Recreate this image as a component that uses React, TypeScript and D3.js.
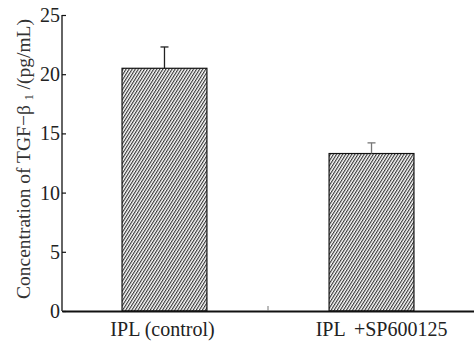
import * as d3 from 'd3';
import React, { useEffect, useRef } from 'react';

const groups = ['IPL (control)', 'IPL \u2009+SP600125'];
const means = [20.5, 13.3];
const errors = [1.8, 0.9];
const yTicks = [0, 5, 10, 15, 20, 25];

const W = 474;
const H = 341;

function App() {
    const ref = useRef<SVGSVGElement>(null);

    useEffect(() => {
        const svg = d3.select(ref.current);
        svg.selectAll('*').remove();

        const left = 62, top = 15, bottom = 311, right = W;
        const font = "'Liberation Serif', 'Times New Roman', serif";

        const x = d3.scaleBand<string>()
            .domain(groups)
            .range([left, right])
            .paddingInner(0.59)
            .paddingOuter(0.29);

        const y = d3.scaleLinear()
            .domain([0, 25])
            .range([bottom, top]);

        // hatch fill
        const defs = svg.append('defs');
        const pat = defs.append('pattern')
            .attr('id', 'hatch')
            .attr('patternUnits', 'userSpaceOnUse')
            .attr('width', 2.6)
            .attr('height', 6)
            .attr('patternTransform', 'rotate(32)');
        pat.append('rect').attr('width', 2.6).attr('height', 6).attr('fill', '#fff');
        pat.append('line')
            .attr('x1', 0.6).attr('y1', 0).attr('x2', 0.6).attr('y2', 6)
            .attr('stroke', '#222').attr('stroke-width', 1.05);

        // bars
        svg.selectAll('rect.bar')
            .data(groups)
            .join('rect')
            .attr('class', 'bar')
            .attr('x', d => x(d)!)
            .attr('width', x.bandwidth())
            .attr('y', (d, i) => y(means[i]))
            .attr('height', (d, i) => y(0) - y(means[i]))
            .attr('fill', 'url(#hatch)')
            .attr('stroke', '#111')
            .attr('stroke-width', 1.2);

        // error bars
        const eb = svg.selectAll('g.err')
            .data(groups)
            .join('g')
            .attr('class', 'err')
            .attr('stroke', (d, i) => (i === 0 ? '#222' : '#777'))
            .attr('stroke-width', 1.3);
        eb.append('line')
            .attr('x1', d => x(d)! + x.bandwidth() / 2)
            .attr('x2', d => x(d)! + x.bandwidth() / 2)
            .attr('y1', (d, i) => y(means[i]))
            .attr('y2', (d, i) => y(means[i] + errors[i]));
        eb.append('line')
            .attr('x1', d => x(d)! + x.bandwidth() / 2 - 4)
            .attr('x2', d => x(d)! + x.bandwidth() / 2 + 4)
            .attr('y1', (d, i) => y(means[i] + errors[i]))
            .attr('y2', (d, i) => y(means[i] + errors[i]));

        // y axis
        const yAxis = svg.append('g')
            .attr('transform', `translate(${left},0)`)
            .call(d3.axisRight(y).tickValues(yTicks).tickSize(4).tickFormat(d3.format('d')));
        yAxis.attr('font-family', null);
        yAxis.select('.domain').attr('stroke', '#111').attr('stroke-width', 1.3).attr('d', `M0,${top}V${bottom}`);
        yAxis.selectAll('.tick line').attr('stroke', '#111').attr('stroke-width', 1.2);
        yAxis.selectAll('.tick text')
            .attr('x', -2)
            .attr('text-anchor', 'end')
            .style('font-family', font)
            .style('font-size', '20px')
            .attr('fill', '#222');

        // x axis
        const xAxis = svg.append('g')
            .attr('transform', `translate(0,${bottom})`)
            .call(d3.axisBottom(x).tickSize(0).tickPadding(11));
        xAxis.attr('font-family', null);
        xAxis.select('.domain').attr('stroke', '#111').attr('stroke-width', 1.8);
        xAxis.selectAll('.tick text')
            .attr('dx', (d, i) => (i === 1 ? 10 : -2))
            .style('font-family', font)
            .style('font-size', '20px')
            .attr('fill', '#222');

        // small separator tick between the groups
        const mid = (x(groups[0])! + x.bandwidth() + x(groups[1])!) / 2;
        svg.append('line')
            .attr('x1', mid).attr('x2', mid)
            .attr('y1', bottom).attr('y2', bottom - 5)
            .attr('stroke', '#777').attr('stroke-width', 1);

        // y axis title
        const title = svg.append('text')
            .attr('transform', `translate(30,159) rotate(-90)`)
            .attr('text-anchor', 'middle')
            .style('font-family', font)
            .style('font-size', '19.5px')
            .attr('fill', '#333');
        title.append('tspan').text('Concentration of TGF\u2212\u03b2 ');
        title.append('tspan').style('font-size', '12px').attr('dy', 3).text('1');
        title.append('tspan').attr('dy', -3).text(' /(pg/mL)');
    }, []);

    return (
        <div style={{ position: 'absolute', left: 0, top: 0, background: '#fff' }}>
            <svg ref={ref} width={W} height={H}></svg>
        </div>
    );
}

export default App;
